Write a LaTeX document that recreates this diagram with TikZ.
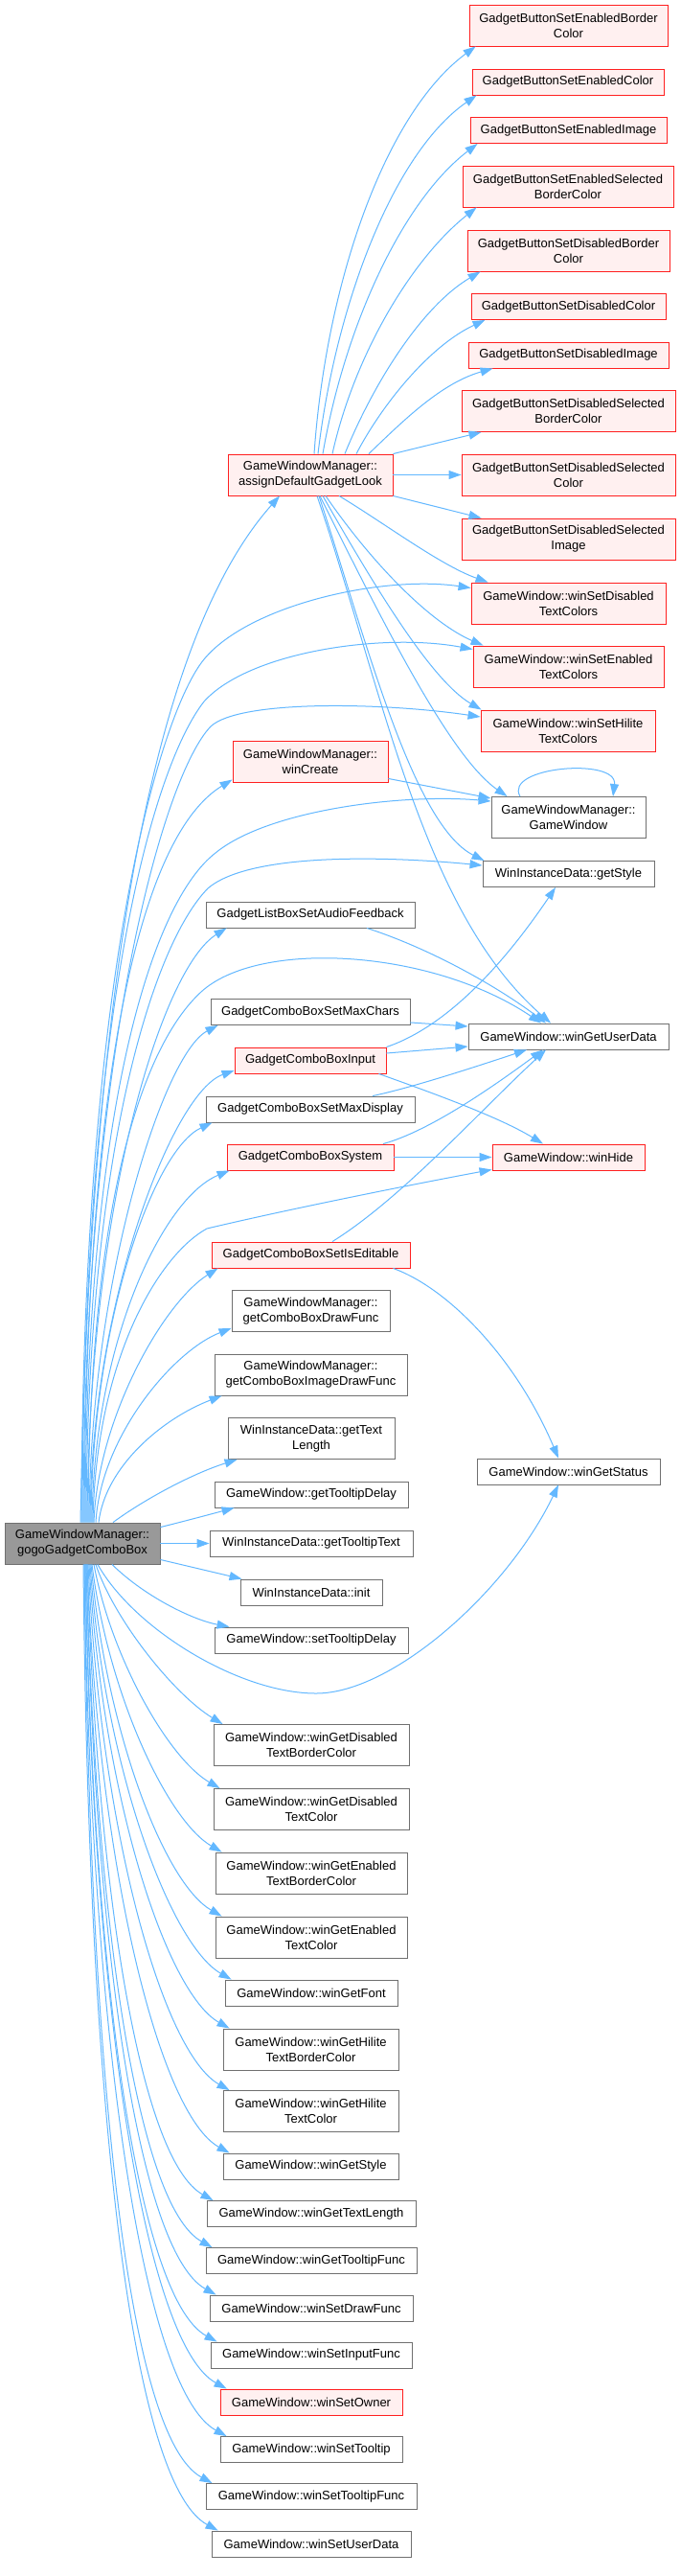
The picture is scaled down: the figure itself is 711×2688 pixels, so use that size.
\documentclass[tikz,border=0pt]{standalone}
\usepackage{fontspec}
\setmainfont{Liberation Sans}
\usetikzlibrary{arrows.meta}
\definecolor{edgec}{HTML}{63B8FF}
\definecolor{hotb}{HTML}{FF2020}
\definecolor{hotf}{HTML}{FFF0F0}
\definecolor{coldb}{HTML}{707070}
\definecolor{rootf}{HTML}{999999}
\newcommand\dfont{\fontsize{13}{16}\selectfont}
\begin{document}
\begin{tikzpicture}[x=1pt,y=-1pt,
  box/.style={draw,line width=0.9pt,inner sep=0pt,align=center,font=\dfont,minimum height=27pt},
  dbl/.style={minimum height=43pt},
  hot/.style={box,draw=hotb,fill=hotf},
  cold/.style={box,draw=coldb,fill=white},
  root/.style={box,draw=coldb,fill=rootf},
  ed/.style={draw=edgec,line width=1pt,-{Triangle[length=13pt,width=9pt]}}]
\fill[white] (0,0) rectangle (711,2688);
\useasboundingbox (0,0) rectangle (711,2688);
% right column
\node[hot,dbl,minimum width=207pt] (bEBC) at (593.5,26.5) {GadgetButtonSetEnabledBorder\\Color};
\node[hot,minimum width=200pt] (bEC) at (593,85.5) {GadgetButtonSetEnabledColor};
\node[hot,minimum width=205pt] (bEI) at (593.5,136) {GadgetButtonSetEnabledImage};
\node[hot,dbl,minimum width=220pt] (bESBC) at (593,194.5) {GadgetButtonSetEnabledSelected\\BorderColor};
\node[hot,dbl,minimum width=211pt] (bDBC) at (593.5,261.5) {GadgetButtonSetDisabledBorder\\Color};
\node[hot,minimum width=203pt] (bDC) at (593.5,320) {GadgetButtonSetDisabledColor};
\node[hot,minimum width=209pt] (bDI) at (593.5,370.5) {GadgetButtonSetDisabledImage};
\node[hot,dbl,minimum width=223pt] (bDSBC) at (593.5,429) {GadgetButtonSetDisabledSelected\\BorderColor};
\node[hot,dbl,minimum width=223pt] (bDSC) at (593.5,495.5) {GadgetButtonSetDisabledSelected\\Color};
\node[hot,dbl,minimum width=223pt] (bDSI) at (593.5,562.5) {GadgetButtonSetDisabledSelected\\Image};
\node[hot,dbl,minimum width=203pt] (wSDTC) at (593.5,629.5) {GameWindow::winSetDisabled\\TextColors};
\node[hot,dbl,minimum width=199pt] (wSETC) at (593.5,695.5) {GameWindow::winSetEnabled\\TextColors};
\node[hot,dbl,minimum width=182pt] (wSHTC) at (593,762.5) {GameWindow::winSetHilite\\TextColors};
\node[cold,dbl,minimum width=161pt] (gwGW) at (593.5,853) {GameWindowManager::\\GameWindow};
\node[cold,minimum width=179pt] (getStyle) at (593.5,912) {WinInstanceData::getStyle};
\node[cold,minimum width=209pt] (wGUD) at (593.5,1081.5) {GameWindow::winGetUserData};
\node[hot,minimum width=159pt] (winHide) at (593.5,1207.5) {GameWindow::winHide};
\node[cold,minimum width=191pt] (winGetStatus) at (593.5,1535.5) {GameWindow::winGetStatus};
% middle column
\node[hot,dbl,minimum width=172pt] (assign) at (324,495.5) {GameWindowManager::\\assignDefaultGadgetLook};
\node[hot,dbl,minimum width=162pt] (winCreate) at (324,794.5) {GameWindowManager::\\winCreate};
\node[cold,minimum width=218pt] (audio) at (324,954.5) {GadgetListBoxSetAudioFeedback};
\node[cold,minimum width=208pt] (maxChars) at (324,1056) {GadgetComboBoxSetMaxChars};
\node[hot,minimum width=158pt] (input) at (324,1106.5) {GadgetComboBoxInput};
\node[cold,minimum width=218pt] (maxDisplay) at (324,1157.5) {GadgetComboBoxSetMaxDisplay};
\node[hot,minimum width=174pt] (system) at (324,1207.5) {GadgetComboBoxSystem};
\node[hot,minimum width=207pt] (isEditable) at (324.5,1309.5) {GadgetComboBoxSetIsEditable};
\node[cold,dbl,minimum width=165pt] (drawFunc) at (324.5,1368) {GameWindowManager::\\getComboBoxDrawFunc};
\node[cold,dbl,minimum width=201pt] (imageDrawFunc) at (324.5,1434.5) {GameWindowManager::\\getComboBoxImageDrawFunc};
\node[cold,dbl,minimum width=174pt] (getTextLength) at (325,1501) {WinInstanceData::getText\\Length};
\node[cold,minimum width=202pt] (getTooltipDelay) at (325,1559.5) {GameWindow::getTooltipDelay};
\node[cold,minimum width=212pt] (getTooltipText) at (325,1610.5) {WinInstanceData::getTooltipText};
\node[cold,minimum width=148pt] (init) at (325,1661.5) {WinInstanceData::init};
\node[cold,minimum width=202pt] (setTooltipDelay) at (325,1711.5) {GameWindow::setTooltipDelay};
\node[cold,dbl,minimum width=204pt] (wGDTBC) at (325,1821) {GameWindow::winGetDisabled\\TextBorderColor};
\node[cold,dbl,minimum width=204pt] (wGDTC) at (325,1888) {GameWindow::winGetDisabled\\TextColor};
\node[cold,dbl,minimum width=200pt] (wGETBC) at (325,1954.5) {GameWindow::winGetEnabled\\TextBorderColor};
\node[cold,dbl,minimum width=200pt] (wGETC) at (325,2021.5) {GameWindow::winGetEnabled\\TextColor};
\node[cold,minimum width=180pt] (winGetFont) at (325,2079.5) {GameWindow::winGetFont};
\node[cold,dbl,minimum width=183pt] (wGHTBC) at (324.5,2138.5) {GameWindow::winGetHilite\\TextBorderColor};
\node[cold,dbl,minimum width=183pt] (wGHTC) at (324.5,2203) {GameWindow::winGetHilite\\TextColor};
\node[cold,minimum width=183pt] (winGetStyle) at (324.5,2260.5) {GameWindow::winGetStyle};
\node[cold,minimum width=218pt] (winGetTextLength) at (325,2310) {GameWindow::winGetTextLength};
\node[cold,minimum width=220pt] (winGetTooltipFunc) at (325,2359) {GameWindow::winGetTooltipFunc};
\node[cold,minimum width=212pt] (winSetDrawFunc) at (325,2408.5) {GameWindow::winSetDrawFunc};
\node[cold,minimum width=210pt] (winSetInputFunc) at (325,2457.5) {GameWindow::winSetInputFunc};
\node[hot,minimum width=190pt] (winSetOwner) at (325,2506.5) {GameWindow::winSetOwner};
\node[cold,minimum width=190pt] (winSetTooltip) at (325,2556) {GameWindow::winSetTooltip};
\node[cold,minimum width=220pt] (winSetTooltipFunc) at (325,2605) {GameWindow::winSetTooltipFunc};
\node[cold,minimum width=208pt] (winSetUserData) at (325,2654.5) {GameWindow::winSetUserData};
% root
\node[root,dbl,minimum width=162pt] (gogo) at (86,1610.5) {GameWindowManager::\\gogoGadgetComboBox};
% gogo upward edges
\draw[ed] ([xshift=-2pt]gogo.north) .. controls (95,1000) and (165,660) .. ([xshift=-32pt]assign.south);
\draw[ed] ([xshift=-1pt]gogo.north) .. controls (86,1000) and (170,740) .. (213,688) .. controls (260,631) and (400,600) .. ([yshift=16pt]wSDTC.west);
\draw[ed] (gogo.north) .. controls (87,1050) and (160,800) .. (213,732) .. controls (260,680) and (400,660) .. ([yshift=18pt]wSETC.west);
\draw[ed] ([xshift=1pt]gogo.north) .. controls (88,1100) and (170,810) .. (220,758) .. controls (250,730) and (400,733) .. ([yshift=14.5pt]wSHTC.west);
\draw[ed] ([xshift=2pt]gogo.north) .. controls (90,1100) and (150,870) .. ([yshift=-19pt]winCreate.west);
\draw[ed] ([xshift=3pt]gogo.north) .. controls (90,1150) and (160,940) .. (225,890) .. controls (280,845) and (420,828) .. ([yshift=17pt]gwGW.west);
\draw[ed] ([xshift=4pt]gogo.north) .. controls (91,1200) and (160,985) .. (217,927) .. controls (260,890) and (400,893) .. ([yshift=9pt]getStyle.west);
\draw[ed] ([xshift=5pt]gogo.north) .. controls (93,1250) and (170,1010) .. ([xshift=22pt]audio.south west);
\draw[ed] ([xshift=6pt]gogo.north) .. controls (93,1250) and (150,1090) .. (210,1035) .. controls (270,980) and (450,990) .. ([xshift=-28.5pt]wGUD.north);
\draw[ed] ([xshift=7pt]gogo.north) .. controls (94,1340) and (170,1100) .. ([xshift=8pt]maxChars.south west);
\draw[ed] ([xshift=8pt]gogo.north) .. controls (95,1360) and (180,1140) .. ([yshift=-10.5pt]input.west);
\draw[ed] ([xshift=9pt]gogo.north) .. controls (96,1380) and (160,1200) .. ([xshift=7pt]maxDisplay.south west);
\draw[ed] ([xshift=10pt]gogo.north) .. controls (98,1400) and (170,1250) .. ([xshift=3pt]system.south west);
\draw[ed] ([xshift=11pt]gogo.north) .. controls (100,1420) and (165,1310) .. (216,1282) .. controls (300,1262) and (430,1236) .. ([yshift=1pt]winHide.south west);
\draw[ed] ([xshift=12pt]gogo.north) .. controls (102,1480) and (170,1360) .. ([xshift=7pt]isEditable.south west);
\draw[ed] ([xshift=14pt]gogo.north) .. controls (105,1500) and (180,1410) .. ([yshift=4pt]drawFunc.south west);
\draw[ed] ([xshift=17pt]gogo.north) .. controls (110,1530) and (170,1480) .. ([xshift=8pt]imageDrawFunc.south west);
\draw[ed] ([xshift=32pt]gogo.north) .. controls (150,1565) and (200,1538) .. ([xshift=10pt]getTextLength.south west);
\draw[ed] ([yshift=-5pt]gogo.north east) .. controls (190,1588) and (220,1580) .. ([xshift=21pt]getTooltipDelay.south west);
\draw[ed] (gogo.east) -- (getTooltipText.west);
\draw[ed] ([yshift=5pt]gogo.south east) -- ([xshift=2pt]init.north west);
% gogo downward edges
\draw[ed] ([xshift=31pt]gogo.south) .. controls (150,1665) and (200,1690) .. ([xshift=16pt]setTooltipDelay.north west);
\draw[ed] ([xshift=16pt]gogo.south) .. controls (140,1700) and (250,1767) .. (330,1767) .. controls (410,1767) and (530,1660) .. ([xshift=-10.5pt]winGetStatus.south);
\draw[ed] ([xshift=14pt]gogo.south) .. controls (120,1692) and (183,1769) .. ([xshift=10pt]wGDTBC.north west);
\draw[ed] ([xshift=12pt]gogo.south) .. controls (116.8,1731.7) and (176.5,1835.3) .. ([xshift=7pt]wGDTC.north west);
\draw[ed] ([xshift=10pt]gogo.south) .. controls (113.6,1770) and (175.2,1899.7) .. ([xshift=7pt]wGETBC.north west);
\draw[ed] ([xshift=9pt]gogo.south) .. controls (111.4,1809) and (171.7,1965) .. ([xshift=7pt]wGETC.north west);
\draw[ed] ([xshift=8pt]gogo.south) .. controls (109.2,1847) and (178.4,2029.3) .. ([xshift=7pt]winGetFont.north west);
\draw[ed] ([xshift=7pt]gogo.south) .. controls (107.3,1877) and (173.7,2079) .. ([xshift=7pt]wGHTBC.north west);
\draw[ed] ([xshift=6pt]gogo.south) .. controls (105.2,1914) and (170.5,2142) .. ([xshift=7pt]wGHTC.north west);
\draw[ed] ([xshift=5pt]gogo.south) .. controls (103,1953) and (167,2206) .. ([xshift=7pt]winGetStyle.north west);
\draw[ed] ([xshift=5pt]gogo.south) .. controls (102,1982) and (147.6,2254) .. ([xshift=7pt]winGetTextLength.north west);
\draw[ed] ([xshift=4pt]gogo.south) .. controls (100.3,2010.5) and (144,2302) .. ([xshift=7pt]winGetTooltipFunc.north west);
\draw[ed] ([xshift=4pt]gogo.south) .. controls (99.4,2039) and (145.6,2350) .. ([xshift=7pt]winSetDrawFunc.north west);
\draw[ed] ([xshift=3pt]gogo.south) .. controls (97.5,2067) and (144,2398) .. ([xshift=7pt]winSetInputFunc.north west);
\draw[ed] ([xshift=3pt]gogo.south) .. controls (96.6,2096) and (151.6,2446) .. ([xshift=7pt]winSetOwner.north west);
\draw[ed] ([xshift=2pt]gogo.south) .. controls (94.7,2125) and (149,2494) .. ([xshift=7pt]winSetTooltip.north west);
\draw[ed] ([xshift=2pt]gogo.south) .. controls (93.9,2153.6) and (131.5,2542) .. ([xshift=7pt]winSetTooltipFunc.north west);
\draw[ed] ([xshift=1pt]gogo.south) .. controls (92,2182) and (135,2590) .. ([xshift=7pt]winSetUserData.north west);
% assign edges
\draw[ed] ([xshift=4pt]assign.north) .. controls (340,300) and (400,120) .. ([xshift=7pt]bEBC.south west);
\draw[ed] ([xshift=8pt]assign.north) .. controls (350,320) and (410,160) .. ([xshift=5pt]bEC.south west);
\draw[ed] ([xshift=13pt]assign.north) .. controls (360,340) and (420,210) .. ([xshift=8pt]bEI.south west);
\draw[ed] ([xshift=23pt]assign.north) .. controls (370,370) and (430,270) .. ([xshift=15pt]bESBC.south west);
\draw[ed] ([xshift=36pt]assign.north) .. controls (390,400) and (440,320) .. ([xshift=14pt]bDBC.south west);
\draw[ed] ([xshift=48pt]assign.north) .. controls (400,420) and (450,360) .. ([xshift=15pt]bDC.south west);
\draw[ed] ([xshift=61pt]assign.north) .. controls (420,440) and (460,400) .. ([xshift=26pt]bDI.south west);
\draw[ed] (assign.north east) -- ([xshift=21pt]bDSBC.south west);
\draw[ed] (assign.east) -- (bDSC.west);
\draw[ed] (assign.south east) -- ([xshift=21pt]bDSI.north west);
\draw[ed] ([xshift=30pt]assign.south) .. controls (400,545) and (460,590) .. ([xshift=18pt]wSDTC.north west);
\draw[ed] ([xshift=16pt]assign.south) .. controls (390,590) and (450,650) .. ([xshift=11pt]wSETC.north west);
\draw[ed] ([xshift=13pt]assign.south) .. controls (390,610) and (450,710) .. ([xshift=1pt]wSHTC.north west);
\draw[ed] ([xshift=10pt]assign.south) .. controls (400,650) and (470,790) .. ([xshift=17pt]gwGW.north west);
\draw[ed] ([xshift=9pt]assign.south) .. controls (380,660) and (430,860) .. ([xshift=2pt]getStyle.north west);
\draw[ed] ([xshift=7pt]assign.south) .. controls (400,720) and (440,950) .. ([xshift=-18.5pt]wGUD.north);
% other edges
\draw[ed] ([yshift=4pt]winCreate.south east) -- ([yshift=20pt]gwGW.west);
\draw[ed] ([xshift=-50.5pt]gwGW.north) .. controls (525,800) and (645,790) .. ([xshift=46.5pt]gwGW.north);
\draw[ed] ([xshift=59pt]audio.south) .. controls (450,990) and (520,1030) .. ([xshift=-23.5pt]wGUD.north);
\draw[ed] ([yshift=3pt]maxChars.south east) -- ([yshift=10.5pt]wGUD.west);
\draw[ed] ([yshift=7.5pt]input.east) -- ([yshift=-10.5pt]wGUD.west);
\draw[ed] (input.north east) .. controls (470,1070) and (530,1000) .. ([xshift=-13.5pt]getStyle.south);
\draw[ed] ([xshift=-8pt]input.south east) .. controls (450,1140) and (520,1165) .. ([xshift=-26.5pt]winHide.north);
\draw[ed] ([xshift=65pt]maxDisplay.north) .. controls (430,1135) and (500,1112) .. ([xshift=-43.5pt]wGUD.south);
\draw[ed] ([xshift=76pt]system.north) .. controls (450,1180) and (520,1130) .. ([xshift=-26.5pt]wGUD.south);
\draw[ed] (system.east) -- (winHide.west);
\draw[ed] ([xshift=22.5pt]isEditable.north) .. controls (420,1250) and (500,1160) .. ([xshift=-23.5pt]wGUD.south);
\draw[ed] ([xshift=-18pt]isEditable.south east) .. controls (470,1345) and (540,1420) .. ([xshift=-10.5pt]winGetStatus.north);
\end{tikzpicture}
\end{document}
